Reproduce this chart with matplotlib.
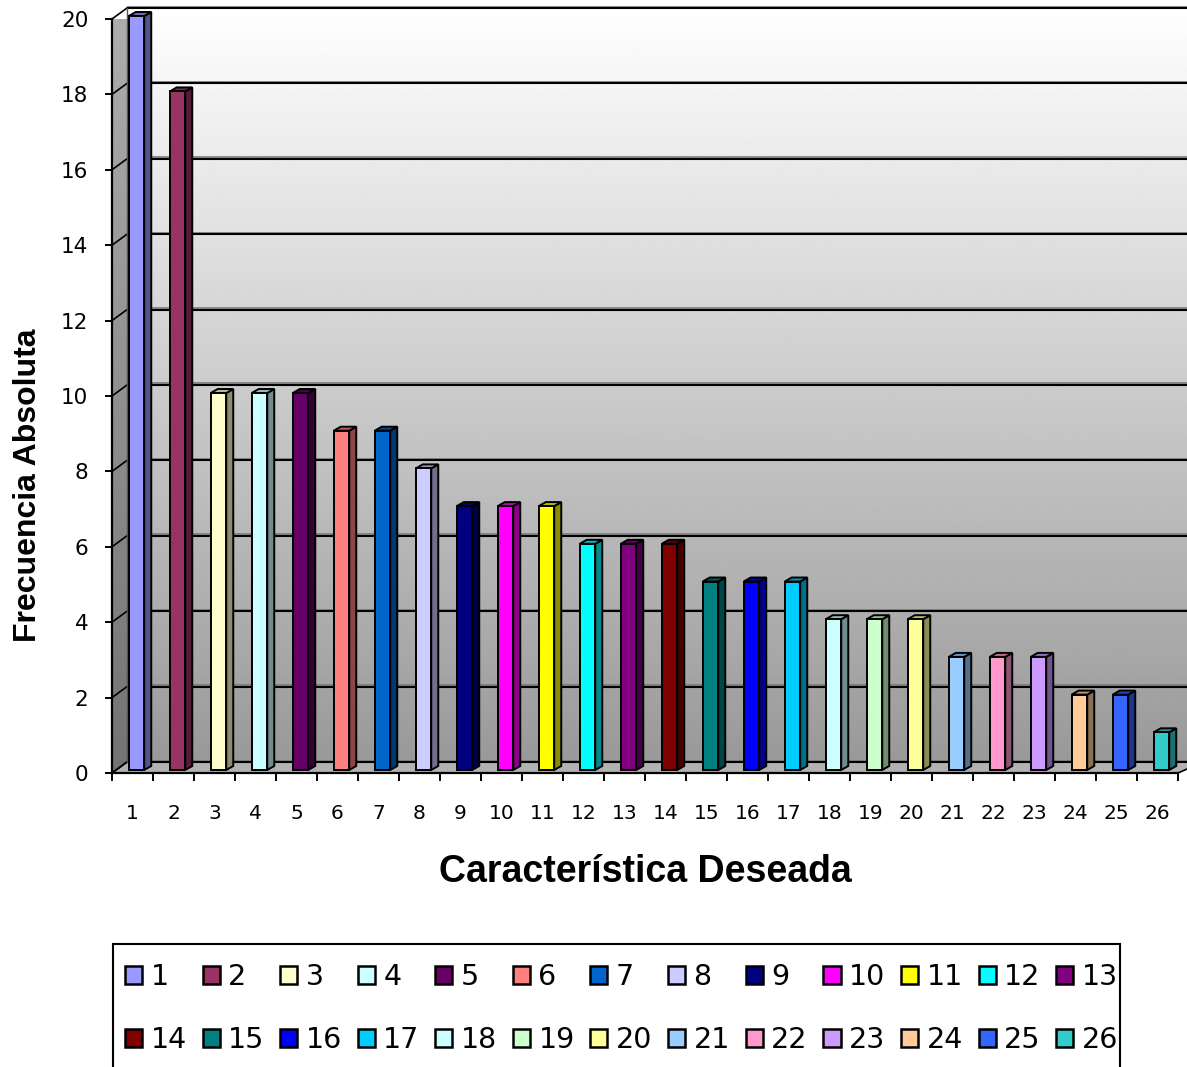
import numpy as np
import matplotlib
matplotlib.use("Agg")
import matplotlib.pyplot as plt
from matplotlib.patches import Polygon, Patch, Rectangle
from matplotlib.colors import to_rgb

plt.rcParams['font.family'] = ['Liberation Sans', 'DejaVu Sans']

categorias = [str(i) for i in range(1, 27)]
frecuencias = [20, 18, 10, 10, 10, 9, 9, 8, 7, 7, 7, 6, 6, 6, 5, 5, 5, 4, 4, 4, 3, 3, 3, 2, 2, 1]
colores = ['#9999FF', '#993366', '#FFFFCC', '#CCFFFF', '#660066', '#FF8080', '#0066CC',
           '#CCCCFF', '#000080', '#FF00FF', '#FFFF00', '#00FFFF', '#800080', '#800000',
           '#008080', '#0000FF', '#00CCFF', '#CCFFFF', '#CCFFCC', '#FFFF99', '#99CCFF',
           '#FF99CC', '#CC99FF', '#FFCC99', '#3366FF', '#33CCCC']
yticks = list(range(0, 21, 2))

W, H = 1187, 1067
fig = plt.figure(figsize=(W / 100, H / 100), dpi=100)
fig.patch.set_facecolor('white')

x0, x1, y0, y1 = 112, 1178, 773, 19
ax = fig.add_axes([x0 / W, 1 - y0 / H, (x1 - x0) / W, (y0 - y1) / H])
ax.set_xlim(0.5, 26.5)
ax.set_ylim(0, 20)
ax.patch.set_visible(False)

px_x = (x1 - x0) / 26.0
px_y = (y0 - y1) / 20.0
# depth of the 3d walls
dx, dy = 15 / px_x, 11 / px_y
xl, xr = 0.5, 26.5 + 10 / px_x

# back wall with vertical gradient
grad = np.linspace(0.60, 1.0, 256).reshape(-1, 1)
ax.imshow(grad, cmap='gray', vmin=0, vmax=1, origin='lower', aspect='auto',
          extent=[xl + dx, xr + dx, dy, 20 + dy], zorder=0, clip_on=False,
          interpolation='bilinear')

# left wall
wall = Polygon([(xl, 0), (xl, 20), (xl + dx, 20 + dy), (xl + dx, dy)], closed=True,
               facecolor='none', edgecolor='none', clip_on=False)
ax.add_patch(wall)
wgrad = np.linspace(0.45, 0.68, 256).reshape(-1, 1)
im = ax.imshow(wgrad, cmap='gray', vmin=0, vmax=1, origin='lower', aspect='auto',
               extent=[xl, xl + dx, 0, 20 + dy], zorder=0.5, clip_on=True,
               interpolation='bilinear')
im.set_clip_path(wall)

# floor
ax.add_patch(Polygon([(xl, 0), (xl + dx, dy), (xr + dx, dy), (26.5, 0)], closed=True,
                     facecolor='#b2b2b2', edgecolor='black', linewidth=1.2,
                     zorder=1, clip_on=False))

# gridlines on back and left walls
g = 1.5 / px_y
for v in yticks:
    ax.plot([xl + dx, xr + dx], [v + dy + g, v + dy + g], color='#7a7a7a', lw=1.2,
            zorder=1.4, clip_on=False, solid_capstyle='butt')
    ax.plot([xl + dx, xr + dx], [v + dy, v + dy], color='black', lw=1.5,
            zorder=1.5, clip_on=False, solid_capstyle='butt')
    ax.plot([xl, xl + dx], [v, v + dy], color='black', lw=1.2, zorder=1.5, clip_on=False)
ax.plot([xl + dx, xl + dx], [dy, 20 + dy], color='#555555', lw=1.0, zorder=1.5, clip_on=False)

# bars: front face from the library, side and top faces from the same values
off_x, off_y = 4 / px_x, 3 / px_y
bw = 15.5 / px_x
sx, sy = 7 / px_x, 4 / px_y
xs = np.arange(1, 27)
bars = ax.bar(xs + off_x, frecuencias, width=bw, bottom=off_y, color=colores,
              edgecolor='black', linewidth=1.4, zorder=4, clip_on=False)
for b, c in zip(bars, colores):
    r, gg, bl = to_rgb(c)
    lx, by = b.get_x(), b.get_y()
    rx, ty = lx + b.get_width(), by + b.get_height()
    side = (r * 0.55, gg * 0.55, bl * 0.55)
    top = (r * 0.72, gg * 0.72, bl * 0.72)
    ax.add_patch(Polygon([(rx, by), (rx, ty), (rx + sx, ty + sy), (rx + sx, by + sy)],
                         closed=True, facecolor=side, edgecolor='black', linewidth=1.4,
                         zorder=3, clip_on=False))
    ax.add_patch(Polygon([(lx, ty), (rx, ty), (rx + sx, ty + sy), (lx + sx, ty + sy)],
                         closed=True, facecolor=top, edgecolor='black', linewidth=1.4,
                         zorder=3, clip_on=False))

# axes
for s in ['top', 'right']:
    ax.spines[s].set_visible(False)
for s in ['left', 'bottom']:
    ax.spines[s].set_linewidth(1.6)
    ax.spines[s].set_zorder(5)
ax.set_yticks(yticks)
ax.set_yticklabels([str(v) for v in yticks], fontsize=15.5, family='DejaVu Sans')
ax.tick_params(axis='y', length=5, width=1.4, pad=12)
ax.set_xticks(xs)
ax.set_xticklabels(categorias, fontsize=14.5, family='DejaVu Sans')
ax.set_xticks(np.arange(0.5, 27, 1), minor=True)
ax.tick_params(axis='x', which='major', length=0, pad=22)
ax.tick_params(axis='x', which='minor', length=6, width=1.4)

fig.text(645 / W, 1 - 872 / H, 'Característica Deseada', fontsize=27,
         fontweight='bold', ha='center', va='center')
fig.text(28 / W, 1 - 485 / H, 'Frecuencia Absoluta', fontsize=23,
         fontweight='bold', ha='center', va='center', rotation=90)

# legend in two rows: 1-13 on top, 14-26 below (legend fills by column)
orden = [i + 13 * k for i in range(13) for k in range(2)]
handles = [Patch(facecolor=colores[i], edgecolor='black', linewidth=1.8) for i in orden]
etiquetas = [categorias[i] for i in orden]
leg = fig.legend(handles, etiquetas, ncol=13, loc='upper left',
                 bbox_to_anchor=(125 / W, 1 - 963 / H),
                 prop={'family': 'DejaVu Sans', 'size': 20.5},
                 frameon=False, borderaxespad=0, borderpad=0,
                 handlelength=0.6, handleheight=0.6, handletextpad=0.3,
                 columnspacing=0.55, labelspacing=1.23)
# legend box, open at the bottom edge of the figure
fig.patches.append(Rectangle((113 / W, -0.02), (1120 - 113) / W, 0.02 + (1067 - 944) / H,
                             transform=fig.transFigure, facecolor='none',
                             edgecolor='black', linewidth=1.5))

fig.savefig('out.png', dpi=100)
